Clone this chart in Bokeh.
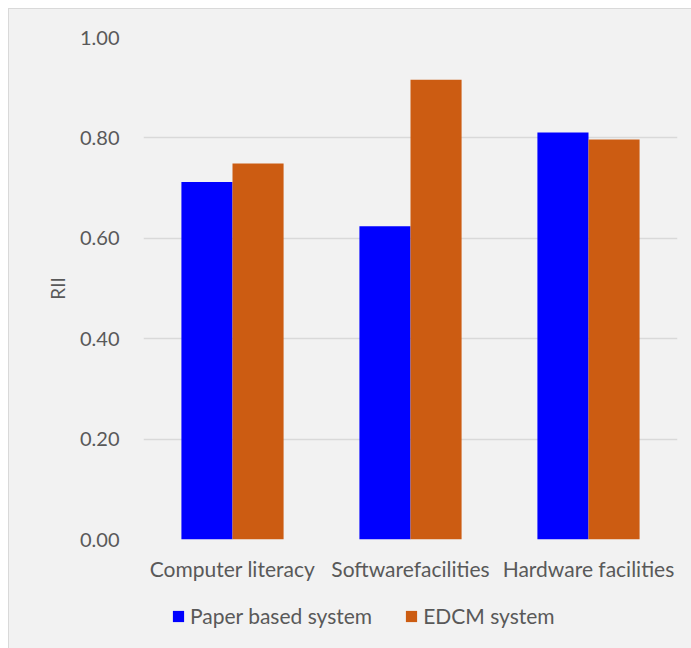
from bokeh.plotting import figure
from bokeh.layouts import column, row
from bokeh.models import (ColumnDataSource, FactorRange, Legend, LegendItem,
                          NumeralTickFormatter, Spacer, FixedTicker)
from bokeh.transform import dodge
from bokeh.embed import file_html
from bokeh.resources import INLINE

categories = ["Computer literacy", "Softwarefacilities", "Hardware facilities"]
paper_based = [0.712, 0.624, 0.811]
edcm = [0.749, 0.916, 0.797]
y_ticks = [0.0, 0.2, 0.4, 0.6, 0.8, 1.0]
series_names = ["Paper based system", "EDCM system"]
series_colors = ["#0000ff", "#cc5c12"]

FONT = "Lato"
TEXT = "#595959"
BG = "#f2f2f2"
GRID = "#d9d9d9"

src = ColumnDataSource(dict(cat=categories, paper=paper_based, edcm=edcm))

# main bar chart
p = figure(x_range=FactorRange(*categories), y_range=(0, 1.0),
           width=683, height=582, output_backend="svg", toolbar_location=None,
           min_border_left=134, min_border_right=15, min_border_top=28,
           min_border_bottom=52,
           background_fill_color=BG, border_fill_color=BG)
p.outline_line_color = None

bar_w = 0.287
p.vbar(x=dodge("cat", -bar_w / 2, range=p.x_range), top="paper", width=bar_w,
       source=src, fill_color=series_colors[0], line_color=None)
p.vbar(x=dodge("cat", bar_w / 2, range=p.x_range), top="edcm", width=bar_w,
       source=src, fill_color=series_colors[1], line_color=None)

p.xgrid.grid_line_color = None
p.ygrid.grid_line_color = GRID
p.ygrid.grid_line_width = 1.5
p.yaxis.ticker = FixedTicker(ticks=y_ticks)
p.yaxis.formatter = NumeralTickFormatter(format="0.00")

for ax in (p.xaxis, p.yaxis):
    ax.axis_line_color = None
    ax.major_tick_line_color = None
    ax.minor_tick_line_color = None
    ax.major_label_text_font = FONT
    ax.major_label_text_color = TEXT

p.yaxis.major_label_text_font_size = "20px"
p.yaxis.major_label_standoff = 18
p.yaxis.axis_label = "RII"
p.yaxis.axis_label_text_font = FONT
p.yaxis.axis_label_text_font_style = "normal"
p.yaxis.axis_label_text_font_size = "19px"
p.yaxis.axis_label_text_color = TEXT
p.yaxis.axis_label_standoff = 8

p.xaxis.major_label_text_font_size = "21px"
p.xaxis.major_label_standoff = 10

# legend strip under the chart
lg = figure(width=683, height=58, output_backend="svg", toolbar_location=None,
            min_border=0, x_range=(0, 1), y_range=(0, 1),
            x_axis_location=None, y_axis_location=None,
            background_fill_color=None, border_fill_color=None)
lg.outline_line_color = None
lg.grid.visible = False

items = []
for name, color in zip(series_names, series_colors):
    # kept outside the visible range: only the legend swatch is drawn
    r = lg.vbar(x=[-5], top=[-5], width=0.1, fill_color=color, line_color=None)
    items.append(LegendItem(label=name, renderers=[r]))

legend = Legend(items=items, orientation="horizontal", location=(28, 21),
                background_fill_alpha=0, border_line_color=None,
                label_text_font=FONT, label_text_font_size="21px",
                label_text_color=TEXT, glyph_width=14, glyph_height=14,
                label_standoff=5, spacing=32, padding=4, margin=0)
lg.add_layout(legend, "center")

chart = column(p, lg, spacing=0,
               styles={"border-top": "1px solid #d9d9d9",
                       "border-left": "1px solid #d9d9d9",
                       "background-color": BG})
layout = column(Spacer(height=8), row(Spacer(width=8), chart, spacing=0),
                spacing=0)

open("out.html", "w").write(file_html(layout, INLINE))
